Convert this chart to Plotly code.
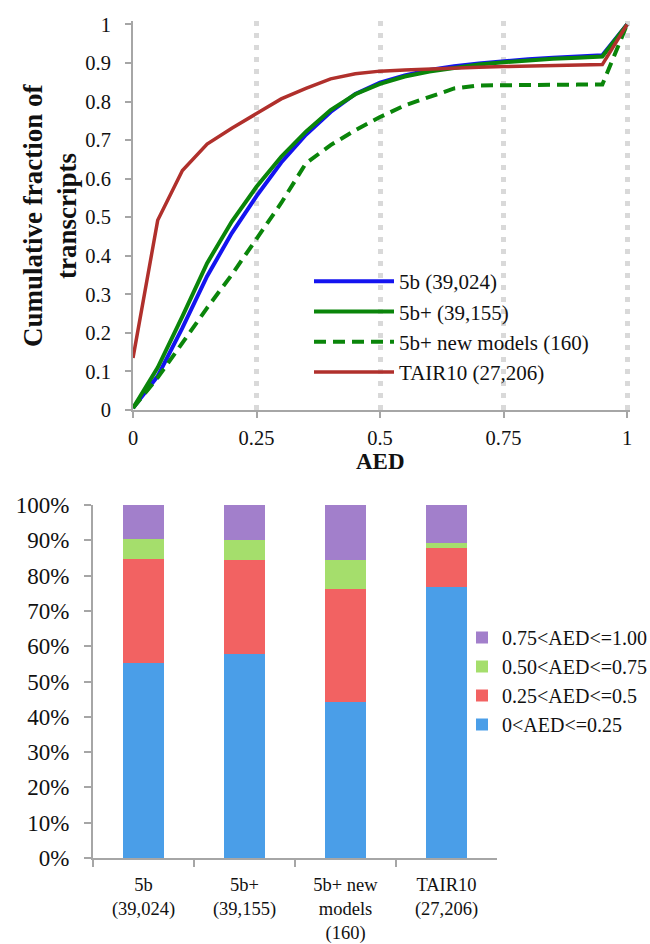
import plotly.graph_objects as go

# ---------------- data ----------------
aed = [0.00, 0.05, 0.10, 0.15, 0.20, 0.25, 0.30, 0.35, 0.40, 0.45, 0.50,
       0.55, 0.60, 0.65, 0.70, 0.75, 0.80, 0.85, 0.90, 0.95, 1.00]

cum_5b = [0.005, 0.088, 0.213, 0.347, 0.459, 0.555, 0.642, 0.714, 0.773, 0.820, 0.849,
          0.868, 0.882, 0.892, 0.899, 0.905, 0.910, 0.914, 0.917, 0.920, 1.000]
cum_5bp = [0.005, 0.110, 0.243, 0.381, 0.489, 0.579, 0.657, 0.722, 0.778, 0.819, 0.846,
           0.865, 0.878, 0.888, 0.896, 0.902, 0.907, 0.911, 0.914, 0.917, 1.000]
cum_new = [0.005, 0.084, 0.174, 0.265, 0.351, 0.443, 0.537, 0.640, 0.687, 0.726, 0.760,
           0.790, 0.813, 0.834, 0.842, 0.843, 0.844, 0.844, 0.844, 0.844, 1.000]
cum_tair = [0.135, 0.492, 0.621, 0.690, 0.731, 0.768, 0.807, 0.834, 0.859, 0.872, 0.879,
            0.882, 0.885, 0.887, 0.889, 0.891, 0.892, 0.893, 0.894, 0.896, 1.000]

line_names = ["5b (39,024)", "5b+ (39,155)", "5b+ new models (160)", "TAIR10 (27,206)"]

x_ticks = [0, 0.25, 0.5, 0.75, 1]
x_ticktext = ["0", "0.25", "0.5", "0.75", "1"]

categories = ["5b<br>(39,024)", "5b+<br>(39,155)", "5b+ new<br>models<br>(160)", "TAIR10<br>(27,206)"]
seg_names = ["0<AED<=0.25", "0.25<AED<=0.5", "0.50<AED<=0.75", "0.75<AED<=1.00"]
seg_0_25 = [55.2, 57.9, 44.3, 76.8]
seg_25_50 = [29.5, 26.5, 31.9, 11.0]
seg_50_75 = [5.8, 5.8, 8.1, 1.3]
seg_75_100 = [9.5, 9.8, 15.7, 10.9]

# ---------------- styling ----------------
W, H = 650, 944
FONT = "Liberation Serif"
AX = "#A6A6A6"

def px_x(p):
    return p / W

def px_y(p):
    return 1 - p / H

fig = go.Figure()

line_styles = [
    dict(color="#1414F0", width=4),
    dict(color="#0A850A", width=4),
    dict(color="#0A850A", width=4, dash="12px,7px"),
    dict(color="#B0302C", width=3.5),
]
for name, ys, ls in zip(line_names, [cum_5b, cum_5bp, cum_new, cum_tair], line_styles):
    fig.add_trace(go.Scatter(x=aed, y=ys, mode="lines", name=name, line=ls,
                             xaxis="x", yaxis="y", legend="legend",
                             legendgroup=name))

bar_colors = ["#4A9EE8", "#F26262", "#A5DE6C", "#A27FCB"]
bar_ranks = [4, 3, 2, 1]
for name, vals, col, rk in zip(seg_names, [seg_0_25, seg_25_50, seg_50_75, seg_75_100],
                               bar_colors, bar_ranks):
    fig.add_trace(go.Bar(x=categories, y=vals, name=name,
                         marker=dict(color=col, line=dict(width=0)),
                         xaxis="x2", yaxis="y2", legend="legend2", width=0.4,
                         legendgroup=name, legendrank=rk))

fig.update_layout(
    width=W, height=H,
    margin=dict(l=0, r=0, t=0, b=0, autoexpand=False),
    paper_bgcolor="white", plot_bgcolor="white",
    barmode="stack",
    font=dict(family=FONT, color="#111111", size=20),
    xaxis=dict(domain=[px_x(133), px_x(630)], range=[0, 1.006], anchor="y",
               tickvals=x_ticks, ticktext=x_ticktext, automargin=False,
               showline=True, linecolor=AX, linewidth=2,
               ticks="outside", ticklen=6, tickwidth=2, tickcolor=AX,
               showgrid=True, gridcolor="#D9D9D9", gridwidth=5, griddash="5px,7px",
               zeroline=False, tickfont=dict(size=20.5), ticklabelstandoff=2),
    yaxis=dict(domain=[px_y(410), px_y(21.4)], range=[0, 1.008], anchor="x",
               dtick=0.1, tick0=0, automargin=False,
               showline=True, linecolor=AX, linewidth=2,
               ticks="outside", ticklen=6, tickwidth=2, tickcolor=AX,
               showgrid=False, zeroline=False, tickfont=dict(size=20.5),
               ticklabelstandoff=10),
    xaxis2=dict(domain=[px_x(93), px_x(497)], anchor="y2", type="category",
                automargin=False,
                showline=True, linecolor=AX, linewidth=2,
                ticks="outside", ticklen=7, tickwidth=2, tickcolor=AX,
                tickson="boundaries", showgrid=False, zeroline=False,
                tickfont=dict(size=18.5), ticklabelstandoff=9),
    yaxis2=dict(domain=[px_y(858), px_y(505)], range=[0, 100], anchor="x2",
                dtick=10, ticksuffix="%", automargin=False,
                showline=True, linecolor=AX, linewidth=2,
                ticks="outside", ticklen=7, tickwidth=2, tickcolor=AX,
                showgrid=False, zeroline=False, tickfont=dict(size=23),
                ticklabelstandoff=10),
    legend=dict(x=px_x(309), y=px_y(261), xanchor="left", yanchor="top",
                bgcolor="rgba(0,0,0,0)", font=dict(size=21), itemwidth=80,
                traceorder="grouped", tracegroupgap=0),
    legend2=dict(x=px_x(462), y=px_y(618), xanchor="left", yanchor="top",
                 bgcolor="rgba(0,0,0,0)", font=dict(size=20),
                 traceorder="grouped", tracegroupgap=0),
    showlegend=True,
    annotations=[
        dict(text="<b>Cumulative fraction of</b>", x=px_x(33), y=px_y(216), xref="paper", yref="paper",
             textangle=-90, showarrow=False, font=dict(size=27, family=FONT),
             xanchor="center", yanchor="middle"),
        dict(text="<b>transcripts</b>", x=px_x(67), y=px_y(216), xref="paper", yref="paper",
             textangle=-90, showarrow=False, font=dict(size=27, family=FONT),
             xanchor="center", yanchor="middle"),
        dict(text="<b>AED</b>", x=px_x(380), y=px_y(462), xref="paper", yref="paper",
             showarrow=False, font=dict(size=23, family=FONT),
             xanchor="center", yanchor="middle"),
    ],
)

fig.write_html("out.html")
